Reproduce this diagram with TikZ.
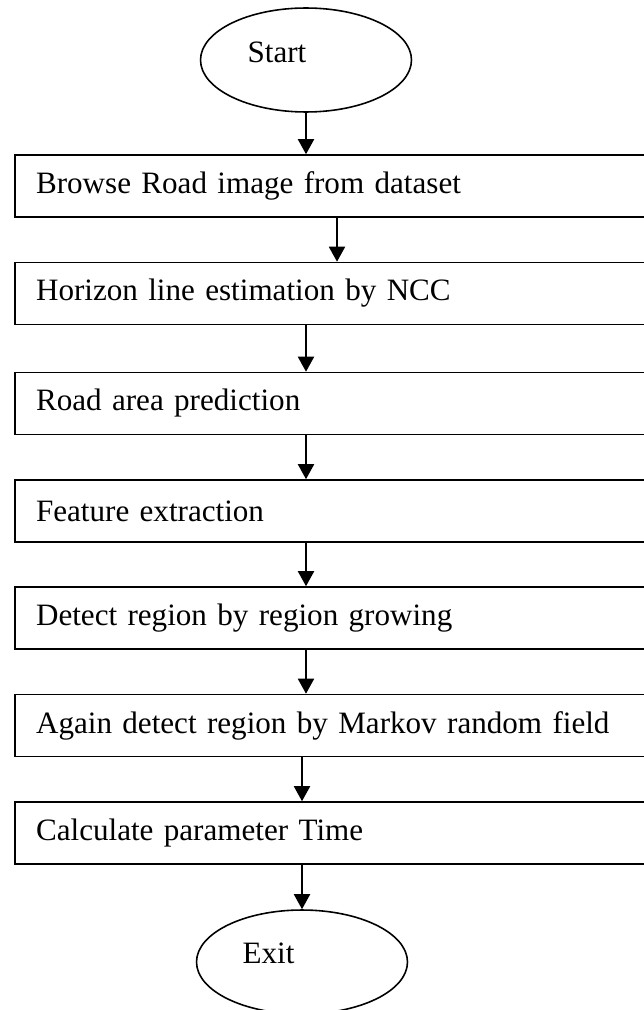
\documentclass[tikz,border=0pt]{standalone}
\usepackage{fontspec}
\setmainfont{Liberation Serif}
\usetikzlibrary{
    shapes,
    arrows.meta,
    positioning
}

\begin{document}
\begin{tikzpicture}[x=0.02cm, y=-0.02cm,
    stepbox/.style={draw, line width=0.9pt, minimum height=1.24cm, text width=12.04cm,
        inner xsep=0.42cm, align=left, font=\fontsize{17.7}{21}\selectfont},
    term/.style={draw, ellipse, line width=0.9pt, minimum width=4.22cm, minimum height=2.08cm, inner sep=0pt},
    flow/.style={-{Triangle[width=0.32cm, length=0.3cm]}, line width=1.1pt}]
                        \useasboundingbox (0,0) rectangle (644,1010);
                        \clip (0,0) rectangle (644,1010);
                        % terminals
                        \node[term, label={[font=\fontsize{17.7}{21}\selectfont, xshift=-0.58cm, yshift=0.16cm]center:Start}] (start) at (306,60) {};
                        \node[term, label={[font=\fontsize{17.7}{21}\selectfont, xshift=-0.67cm, yshift=0.18cm]center:Exit}] (exit) at (302,962) {};
                        % steps
                        \node[stepbox] (browse) at (337,186) {Browse Road image from dataset};
                        \node[stepbox] (horizon) at (337,293.5) {Horizon line estimation by NCC};
                        \node[stepbox] (roadarea) at (337,403.5) {Road area prediction};
                        \node[stepbox] (feature) at (337,511) {Feature extraction};
                        \node[stepbox] (growing) at (337,618) {Detect region by region growing};
                        \node[stepbox] (markov) at (337,725.5) {Again detect region by Markov random field};
                        \node[stepbox] (calcparam) at (337,833) {Calculate parameter Time};
                        % arrows
                        \draw[flow] (start) -- (start |- browse.north);
                        \draw[flow] (browse) -- (horizon);
                        \draw[flow] (horizon.south -| start) -- (roadarea.north -| start);
                        \draw[flow] (roadarea.south -| start) -- (feature.north -| start);
                        \draw[flow] (feature.south -| start) -- (growing.north -| start);
                        \draw[flow] (growing.south -| start) -- (markov.north -| start);
                        \draw[flow] (markov.south -| exit) -- (calcparam.north -| exit);
                        \draw[flow] (calcparam.south -| exit) -- (exit);
                    \end{tikzpicture}
\end{document}
